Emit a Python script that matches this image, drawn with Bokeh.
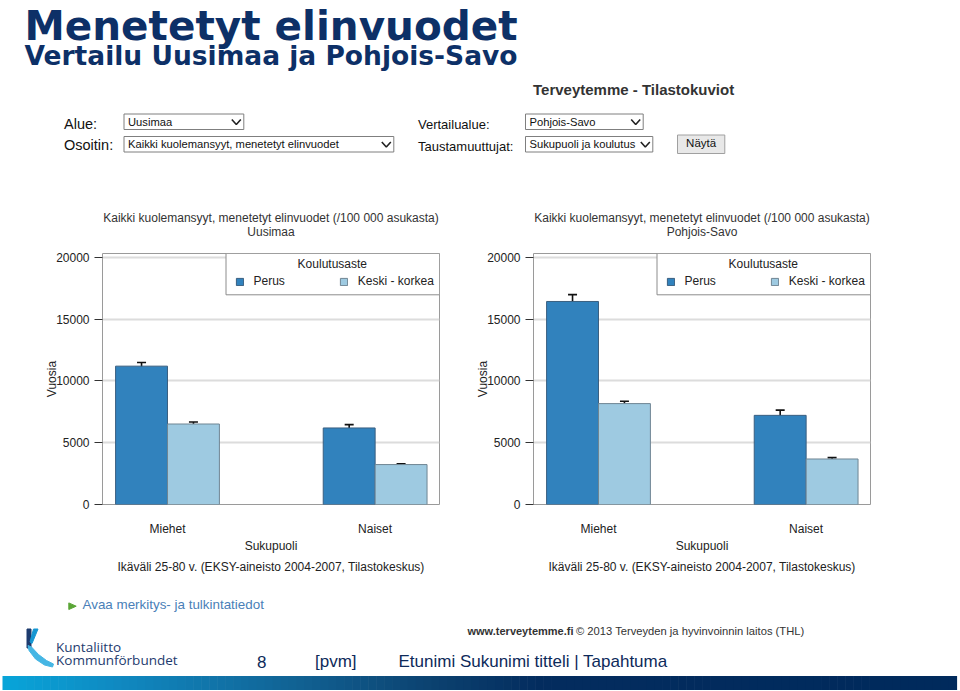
import numpy as np
from bokeh.plotting import figure
from bokeh.models import (Range1d, FixedTicker, Whisker, TeeHead, ColumnDataSource,
                          Legend, LegendItem, Title, BoxAnnotation, Label)
from bokeh.layouts import column, row
from bokeh.embed import file_html
from bokeh.resources import INLINE
from bokeh.core.properties import value

# ---------------- data ----------------
categories = ["Miehet", "Naiset"]
education = ["Perus", "Keski - korkea"]
regions = ["Uusimaa", "Pohjois-Savo"]

uusimaa_perus = [11190, 6190]
uusimaa_perus_err = [300, 270]
uusimaa_keski = [6510, 3230]
uusimaa_keski_err = [160, 70]

psavo_perus = [16420, 7210]
psavo_perus_err = [550, 420]
psavo_keski = [8160, 3680]
psavo_keski_err = [190, 110]

y_ticks = [0, 5000, 10000, 15000, 20000]

chart_title = "Kaikki kuolemansyyt, menetetyt elinvuodet (/100 000 asukasta)"
x_title = "Sukupuoli"
y_title = "Vuosia"
caption = "Ikäväli 25-80 v. (EKSY-aineisto 2004-2007, Tilastokeskus)"
legend_title = "Koulutusaste"

# ---------------- styles ----------------
FONT = "Liberation Sans"
ARIAL = value(FONT)
DARK = "#3182bd"
LIGHT = "#9ecae1"
NAVY = "#0d3067"
TXT = "#222222"

HEAD_H = 193
FRAME_W, FRAME_H = 337, 251
B_TOP, B_BOTTOM = 60, 76


def bar_chart(region, perus, perus_err, keski, keski_err, width, b_left, b_right):
    xs = list(range(len(categories)))
    bw = 0.25
    p = figure(width=width, height=B_TOP + FRAME_H + B_BOTTOM, title=None,
               x_range=Range1d(-0.313, 1.31), y_range=Range1d(0, 20300),
               output_backend="svg", toolbar_location=None,
               min_border_left=b_left, min_border_right=b_right,
               min_border_top=B_TOP, min_border_bottom=B_BOTTOM)
    p.background_fill_color = "white"
    p.border_fill_color = "white"
    p.outline_line_color = "#9a9a9a"
    p.outline_line_width = 1

    src = ColumnDataSource(dict(
        x_p=[i - bw / 2 for i in xs], x_k=[i + bw / 2 for i in xs],
        perus=perus, keski=keski,
        p_lo=[v - e for v, e in zip(perus, perus_err)],
        p_hi=[v + e for v, e in zip(perus, perus_err)],
        k_lo=[v - e for v, e in zip(keski, keski_err)],
        k_hi=[v + e for v, e in zip(keski, keski_err)],
    ))
    r1 = p.vbar(x="x_p", top="perus", bottom=0, width=bw, source=src,
                fill_color=DARK, line_color="#3a5f80", line_width=1)
    r2 = p.vbar(x="x_k", top="keski", bottom=0, width=bw, source=src,
                fill_color=LIGHT, line_color="#6f8593", line_width=1)
    for base, lo, hi in (("x_p", "p_lo", "p_hi"), ("x_k", "k_lo", "k_hi")):
        p.add_layout(Whisker(
            source=src, base=base, lower=lo, upper=hi,
            line_color="#111111", line_width=1.6,
            upper_head=TeeHead(size=9, line_width=1.6, line_color="#111111"),
            lower_head=TeeHead(size=9, line_width=1.6, line_color="#111111")))

    # grid
    p.xgrid.visible = False
    p.ygrid.ticker = FixedTicker(ticks=y_ticks)
    p.ygrid.grid_line_color = "#dcdcdc"
    p.ygrid.grid_line_width = 2

    # y axis
    yax = p.yaxis[0]
    yax.ticker = FixedTicker(ticks=y_ticks)
    yax.axis_line_color = None
    yax.major_tick_out = 8
    yax.major_tick_in = 0
    yax.minor_tick_out = 0
    yax.minor_tick_in = 0
    yax.major_tick_line_color = "#333333"
    yax.major_label_standoff = 5
    yax.major_label_text_font = FONT
    yax.major_label_text_font_size = "12px"
    yax.major_label_text_color = TXT
    yax.axis_label = y_title
    yax.axis_label_text_font = FONT
    yax.axis_label_text_font_size = "12px"
    yax.axis_label_text_font_style = "normal"
    yax.axis_label_text_color = TXT
    yax.axis_label_standoff = -6

    # x axis
    xax = p.xaxis[0]
    xax.ticker = FixedTicker(ticks=xs)
    xax.major_label_overrides = {i: c for i, c in zip(xs, categories)}
    xax.axis_line_color = None
    xax.major_tick_out = 0
    xax.major_tick_in = 0
    xax.minor_tick_out = 0
    xax.minor_tick_in = 0
    xax.major_label_standoff = 17
    xax.major_label_text_font = FONT
    xax.major_label_text_font_size = "12px"
    xax.major_label_text_color = TXT
    xax.axis_label = x_title
    xax.axis_label_text_font = FONT
    xax.axis_label_text_font_size = "12px"
    xax.axis_label_text_font_style = "normal"
    xax.axis_label_text_color = TXT
    xax.axis_label_standoff = 0

    p.add_layout(Title(text=caption, align="center", text_font=FONT,
                       text_font_size="12px", text_font_style="normal",
                       text_color=TXT, standoff=5), "below")
    p.add_layout(Title(text=chart_title + "\n" + region, align="center",
                       text_align="center", text_font=FONT,
                       text_font_size="12px", text_font_style="normal",
                       text_color="#333333", standoff=30), "above")

    # legend: box, centred title, horizontal items (screen px from frame bottom-left)
    p.add_layout(BoxAnnotation(left=123.5, left_units="screen",
                               right=FRAME_W, right_units="screen",
                               bottom=209.7, bottom_units="screen",
                               top=FRAME_H, top_units="screen",
                               fill_color="white", fill_alpha=1,
                               line_color="#8c8c8c", line_width=1, line_alpha=1))
    p.add_layout(Label(x=229.8, y=241, x_units="screen", y_units="screen",
                       text=legend_title, text_align="center",
                       text_baseline="middle", text_font=FONT,
                       text_font_size="12px", text_color=TXT))
    leg = Legend(items=[LegendItem(label=education[0], renderers=[r1]),
                        LegendItem(label=education[1], renderers=[r2])],
                 location=(132.5, 216), orientation="horizontal",
                 label_text_font=FONT, label_text_font_size="12px",
                 label_text_color=TXT, label_standoff=10, label_height=14,
                 glyph_width=9, glyph_height=9, spacing=54, padding=0,
                 margin=0, border_line_color=None, background_fill_alpha=0)
    p.add_layout(leg)
    return p


def canvas(width, height, x0, y0):
    p = figure(width=width, height=height, title=None,
               x_range=Range1d(x0, x0 + width), y_range=Range1d(y0 + height, y0),
               output_backend="svg", toolbar_location=None, min_border=0,
               x_axis_type=None, y_axis_type=None)
    p.outline_line_color = None
    p.background_fill_color = "white"
    p.border_fill_color = "white"
    return p


def txt(p, x, y, s, size, font=ARIAL, color=TXT, style="normal", align="left",
        k=0.4):
    # y is the wanted visual baseline; the renderer sets text ~k em lower
    px = float(size.replace("px", ""))
    p.text(x=[x], y=[y - k * px], text=[s], text_font=font,
           text_font_size=size, text_color=color, text_font_style=style,
           text_align=align, text_baseline="alphabetic")


# ---------------- header ----------------
head = canvas(960, HEAD_H, 0, 0)
txt(head, 24, 38.5, "Menetetyt elinvuodet", "40.5px", font=value("DejaVu Sans"),
    color=NAVY, style="bold", k=0.33)
txt(head, 24, 64, "Vertailu Uusimaa ja Pohjois-Savo", "26.5px",
    font=value("DejaVu Sans"), color=NAVY, style="bold", k=0.34)
txt(head, 532.5, 95, "Terveytemme - Tilastokuviot", "15px", color="#333333",
    style="bold")

txt(head, 63.5, 129, "Alue:", "14.5px", color="#111111")
txt(head, 63.5, 150.7, "Osoitin:", "14.5px", color="#111111")
txt(head, 417.5, 129, "Vertailualue:", "13px", color="#111111")
txt(head, 417.5, 150.7, "Taustamuuttujat:", "13px", color="#111111")

boxes_l = [123.5, 123.5, 525, 525]
boxes_r = [243.3, 393.3, 642.7, 652.3]
boxes_t = [113.5, 136, 113.5, 136]
boxes_b = [129, 151.5, 129, 151.5]
box_text = [regions[0], chart_title.split(" (")[0], regions[1],
            "Sukupuoli ja koulutus"]
head.quad(left=boxes_l, right=boxes_r, top=boxes_t, bottom=boxes_b,
          fill_color="white", line_color="#7f7f7f", line_width=1)
for l, t, s in zip(boxes_l, boxes_t, box_text):
    txt(head, l + 4, t + 12, s, "11.2px", color="#111111")
head.multi_line(xs=[[r - 12, r - 7.5, r - 3] for r in boxes_r],
                ys=[[t + 5.5, t + 10.5, t + 5.5] for t in boxes_t],
                line_color="#222222", line_width=1.6)
head.quad(left=[677], right=[724.3], top=[134.5], bottom=[153],
          fill_color="#e8e8e8", line_color="#a0a0a0", line_width=1)
txt(head, 700.6, 147.3, "Näytä", "11.5px", color="#111111", align="center")

# ---------------- charts ----------------
left = bar_chart(regions[0], uusimaa_perus, uusimaa_perus_err,
                 uusimaa_keski, uusimaa_keski_err, 470, 102, 31)
right = bar_chart(regions[1], psavo_perus, psavo_perus_err,
                  psavo_keski, psavo_keski_err, 490, 63, 90)

# ---------------- footer ----------------
foot = canvas(960, 111, 0, 580)
foot.patch(x=[68.3, 68.3, 75.7], y=[602.4, 609, 605.7], color="#5aa636")
txt(foot, 82, 609.5, "Avaa merkitys- ja tulkintatiedot", "13.4px",
    color="#4a7fb8")
txt(foot, 467, 635, "www.terveytemme.fi", "11px", color="#333333", style="bold")
txt(foot, 575.5, 635, "© 2013 Terveyden ja hyvinvoinnin laitos (THL)", "11.2px",
    color="#333333")

# logo
foot.quad(left=[26.5], right=[30.5], top=[628.5], bottom=[647.5],
          color="#1d3b6e")
foot.patch(x=[33, 37.5, 31.5, 29.5], y=[628.5, 628.5, 643, 641.5],
           color="#1596d2")
foot.patch(x=[27.5, 31, 38, 46, 53, 52, 44, 35, 28.5],
           y=[645, 646.5, 654, 660, 663.5, 666.5, 664.5, 658.5, 650],
           color="#45b6e4")
txt(foot, 55.5, 651.5, "Kuntaliitto", "13.5px", font=value("Open Sans"),
    color="#1d3b6e")
txt(foot, 55.5, 664.5, "Kommunförbundet", "13.5px", font=value("Open Sans"),
    color="#1d3b6e")

txt(foot, 256.5, 668, "8", "17px", color="#0d2a5a")
txt(foot, 314.5, 668, "[pvm]", "17px", color="#0d2a5a")
txt(foot, 398, 668, "Etunimi Sukunimi titteli | Tapahtuma", "17px",
    color="#0d2a5a")

# gradient strip
grad_pos = [0.0, 0.12, 0.3, 0.45, 0.56, 1.0]
grad_rgb = [(8, 166, 218), (16, 138, 194), (18, 100, 150), (12, 66, 112),
            (4, 45, 95), (0, 42, 92)]
n = 120
edges = np.linspace(2, 956, n + 1)
mid = (edges[:-1] + edges[1:]) / 2 / 960
cols = []
for m in mid:
    rgb = [int(np.interp(m, grad_pos, [c[k] for c in grad_rgb])) for k in range(3)]
    cols.append("#%02x%02x%02x" % tuple(rgb))
foot.quad(left=edges[:-1], right=edges[1:] + 0.6, top=675.5, bottom=689.5,
          fill_color=cols, line_color=None)

layout = column(head, row(left, right), foot)
open("out.html", "w").write(file_html(layout, INLINE))
